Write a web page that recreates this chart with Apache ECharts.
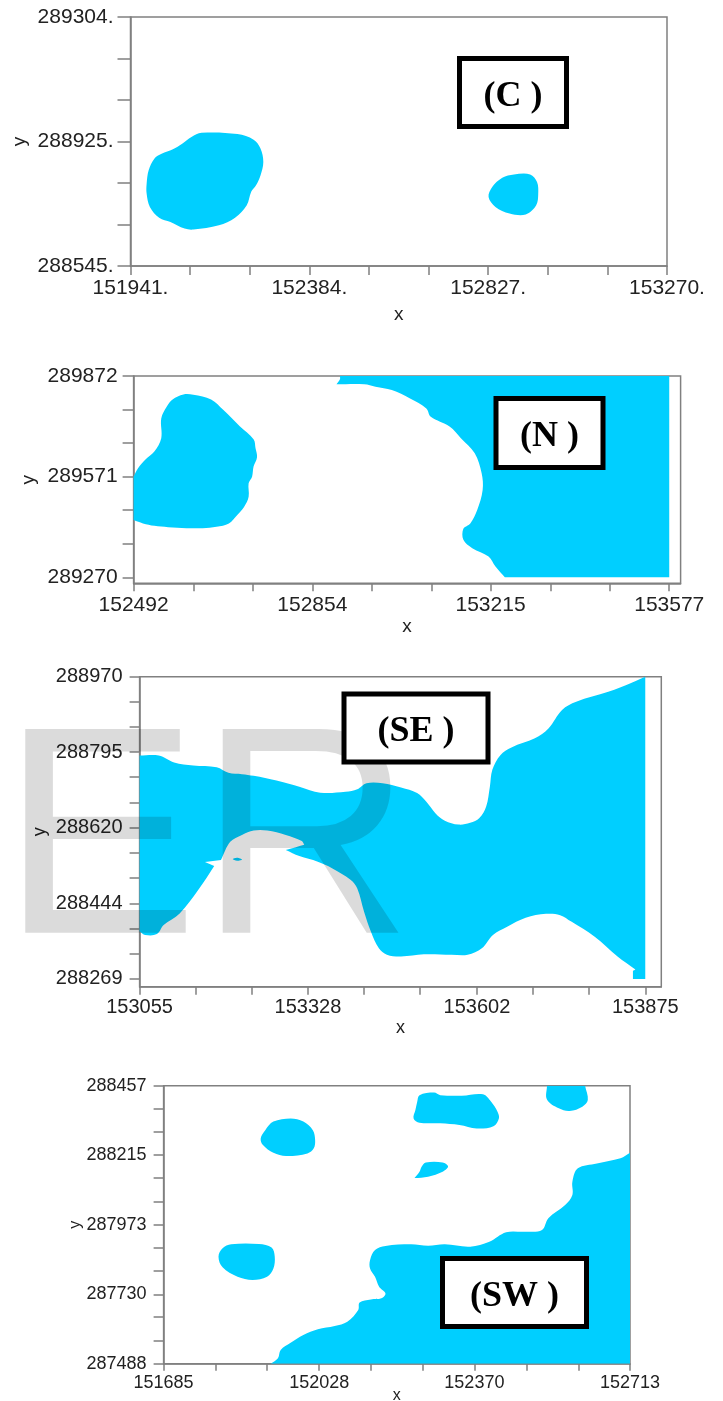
<!DOCTYPE html>
<html><head><meta charset="utf-8">
<style>html,body{margin:0;padding:0;background:#fff}#c{width:723px;height:1401px}</style>
<script src="https://cdn.jsdelivr.net/npm/echarts@6/dist/echarts.min.js"></script>
</head><body><div id="c"></div>
<script>
// ---- Panel C ----
const cXTicks=[151941,152089,152236,152384,152532,152679,152827,152975,153122,153270];
const cYTicks=[288545,288672,288798,288925,289051,289178,289304];
const cXLabels=[151941,152384,152827,153270];
const cYLabels=[288545,288925,289304];
const cBlobBig=[[152117,288951],[152206,288947],[152246,288930],[152263,288903],[152270,288862],[152263,288821],[152252,288791],[152240,288771],[152229,288730],[152200,288692],[152160,288669],[152097,288656],[152075,288659],[152040,288679],[152012,288692],[151989,288725],[151981,288765],[151981,288796],[151986,288837],[152000,288872],[152018,288887],[152046,288901],[152069,288918],[152092,288938]];
const cBlobSmall=[[152891,288824],[152931,288824],[152948,288801],[152951,288765],[152946,288730],[152920,288702],[152880,288705],[152845,288725],[152828,288755],[152837,288786],[152862,288814]];
// ---- Panel N ----
const nXTicks=[152492,152613,152733,152854,152974,153095,153215,153336,153456,153577];
const nYTicks=[289270,289370,289471,289571,289671,289772,289872];
const nXLabels=[152492,152854,153215,153577];
const nYLabels=[289270,289571,289872];
const nBlob=[[152492,289571],[152492,289571],[152501,289596],[152515,289621],[152534,289646],[152548,289686],[152548,289745],[152559,289780],[152571,289802],[152593,289817],[152613,289816],[152649,289802],[152674,289770],[152707,289722],[152735,289683],[152739,289656],[152742,289629],[152735,289601],[152732,289571],[152725,289551],[152725,289511],[152716,289481],[152702,289456],[152685,289431],[152660,289421],[152632,289417],[152599,289417],[152562,289420],[152534,289424],[152511,289431],[152492,289441],[152492,289441]];
const nRegion=[[152910,289872],[152910,289872],[152910,289862],[152903,289847],[152903,289847],[152959,289847],[152982,289840],[153015,289830],[153052,289805],[153085,289775],[153094,289750],[153132,289721],[153155,289686],[153183,289641],[153197,289581],[153199,289531],[153188,289471],[153174,289431],[153160,289415],[153160,289382],[153178,289357],[153211,289332],[153225,289302],[153244,289270],[153244,289270],[153577,289270],[153577,289270],[153577,289872],[153577,289872]];
// ---- Panel SE ----
const seXTicks=[153055,153146,153237,153328,153419,153510,153602,153693,153784,153875];
const seYTicks=[288269,288327,288386,288444,288503,288561,288620,288678,288737,288795,288853,288912,288970];
const seXLabels=[153055,153328,153602,153875];
const seYLabels=[288269,288444,288620,288795,288970];
const seRegion=[[153055,288787],[153055,288787],[153086,288787],[153111,288771],[153142,288764],[153180,288760],[153199,288747],[153221,288744],[153240,288740],[153277,288729],[153314,288715],[153348,288701],[153389,288703],[153408,288709],[153423,288723],[153449,288723],[153479,288713],[153505,288700],[153520,288680],[153535,288653],[153550,288636],[153572,288627],[153591,288631],[153606,288642],[153617,288669],[153623,288715],[153627,288754],[153640,288788],[153658,288806],[153696,288827],[153718,288850],[153740,288893],[153763,288912],[153815,288935],[153853,288956],[153875,288970],[153875,288970],[153875,288269],[153875,288269],[153855,288269],[153855,288269],[153855,288288],[153855,288288],[153859,288291],[153859,288291],[153830,288321],[153793,288367],[153755,288402],[153737,288417],[153714,288420],[153681,288411],[153651,288390],[153628,288371],[153610,288340],[153587,288325],[153561,288325],[153516,288326],[153479,288321],[153456,288325],[153443,288340],[153430,288379],[153419,288425],[153408,288479],[153397,288499],[153367,288526],[153344,288541],[153314,288554],[153292,288568],[153292,288568],[153307,288574],[153322,288580],[153322,288580],[153318,288589],[153292,288603],[153262,288613],[153240,288613],[153221,288603],[153202,288587],[153187,288545],[153187,288545],[153161,288540],[153161,288540],[153176,288531],[153176,288531],[153150,288475],[153120,288421],[153094,288394],[153083,288373],[153064,288371],[153055,288379],[153055,288379]];
const seDot=[[153206,288547],[153213,288550],[153221,288546],[153213,288543]];
// ---- Panel SW ----
const swXTicks=[151685,151799,151913,152028,152142,152256,152370,152485,152599,152713];
const swYTicks=[287488,287569,287650,287730,287811,287892,287973,288054,288135,288215,288296,288376,288457];
const swXLabels=[151685,152028,152370,152713];
const swYLabels=[287488,287730,287973,288215,288457];
const swBlobTop=[[152249,288424],[152281,288433],[152295,288424],[152342,288422],[152389,288427],[152407,288401],[152421,288366],[152424,288343],[152412,288316],[152375,288308],[152337,288320],[152295,288326],[152249,288328],[152236,288343],[152240,288372],[152244,288401]];
const swBlobCorner=[[152530,288457],[152530,288457],[152614,288457],[152614,288457],[152620,288407],[152608,288384],[152580,288369],[152556,288378],[152530,288409]];
const swBlobRound=[[151965,288343],[151993,288332],[152014,288302],[152019,288268],[152016,288239],[152002,288221],[151955,288212],[151927,288223],[151904,288250],[151899,288273],[151909,288302],[151927,288332]];
const swBlobSmall=[[152263,288189],[152300,288189],[152312,288175],[152300,288157],[152268,288140],[152238,288135],[152238,288135],[152249,288157],[152254,288175]];
const swBlobLow=[[151834,287904],[151895,287905],[151923,287893],[151930,287861],[151927,287820],[151913,287791],[151881,287780],[151848,287791],[151815,287824],[151806,287861],[151815,287890]];
const swRegion=[[151921,287488],[151921,287488],[151937,287507],[151943,287536],[151965,287561],[151993,287588],[152025,287608],[152062,287619],[152090,287634],[152114,287675],[152117,287701],[152142,287712],[152165,287716],[152174,287733],[152160,287756],[152151,287791],[152140,287820],[152140,287849],[152151,287884],[152174,287898],[152230,287904],[152268,287899],[152305,287904],[152361,287896],[152403,287913],[152440,287946],[152482,287948],[152519,287954],[152533,287995],[152570,288041],[152586,288076],[152586,288122],[152598,288169],[152640,288186],[152692,288204],[152713,288223],[152713,288223],[152713,287488],[152713,287488]];

const BLUE='#00CFFF', AX='#808080', TXT='#222';
const panels=[
 {rect:[130.5,17,536.5,249],xr:[151941,153270],yr:[288545,289304],xt:cXTicks,yt:cYTicks,xl:cXLabels,yl:cYLabels,suffix:'.',fs:21,ytl:13,xtl:9,xm:12,ym:4,xg:39,yg:101,ns:19,
  blobs:[cBlobBig,cBlobSmall],regions:[],box:[459.5,58.5,107,68],lab:'(C )'},
 {rect:[133.6,376,547,207.3],xr:[152492,153600],yr:[289252,289872],xt:nXTicks,yt:nYTicks,xl:nXLabels,yl:nYLabels,suffix:'',fs:21,ytl:11,xtl:8,xm:11,ym:5,xg:34,yg:95,ns:19,
  blobs:[nBlob],regions:[nRegion],box:[496,398.5,107,69],lab:'(N )'},
 {rect:[139.6,676.7,521.7,310],xr:[153055,153901],yr:[288251,288970],xt:seXTicks,yt:seYTicks,xl:seXLabels,yl:seYLabels,suffix:'',fs:20,ytl:10,xtl:8,xm:11,ym:7,xg:32,yg:91,ns:18,
  blobs:[],regions:[seRegion,seDot],box:[344,694,144,68],lab:'(SE )'},
 {rect:[163.6,1085.7,466.4,278],xr:[151685,152713],yr:[287488,288457],xt:swXTicks,yt:swYTicks,xl:swXLabels,yl:swYLabels,suffix:'',fs:18,ytl:10,xtl:7,xm:10,ym:7,xg:24,yg:80,ns:16,
  blobs:[swBlobTop,swBlobCorner,swBlobRound,swBlobSmall,swBlobLow],regions:[swRegion],box:[442.5,1258.5,144,68],lab:'(SW )'}
];

const grid=[],xAxis=[],yAxis=[],series=[],graphic=[];
const lineStyle={color:AX,width:1.5};
panels.forEach((p,i)=>{
  grid.push({left:p.rect[0],top:p.rect[1],width:p.rect[2],height:p.rect[3],show:true,borderColor:AX,borderWidth:1.5,backgroundColor:'transparent',outerBoundsMode:'none'});
  const fmt=v=>v+p.suffix;
  xAxis.push({gridIndex:i,type:'value',min:p.xr[0],max:p.xr[1],splitLine:{show:false},name:'x',nameLocation:'middle',nameGap:p.xg,nameMoveOverlap:false,
    nameTextStyle:{fontFamily:'Liberation Sans',fontSize:p.ns,color:TXT},axisLine:{show:true,lineStyle},
    axisTick:{show:true,length:p.xtl,customValues:p.xt,lineStyle},
    axisLabel:{show:true,customValues:p.xl,margin:p.xm,formatter:fmt,fontFamily:'Liberation Sans',fontSize:p.fs,color:TXT}});
  yAxis.push({gridIndex:i,type:'value',min:p.yr[0],max:p.yr[1],splitLine:{show:false},name:'y',nameLocation:'middle',nameGap:p.yg,nameRotate:90,nameMoveOverlap:false,
    nameTextStyle:{fontFamily:'Liberation Sans',fontSize:p.ns,color:TXT},axisLine:{show:true,lineStyle},
    axisTick:{show:true,length:p.ytl,customValues:p.yt,lineStyle},
    axisLabel:{show:true,customValues:p.yl,margin:p.ytl+p.ym,formatter:fmt,fontFamily:'Liberation Sans',fontSize:p.fs,color:TXT}});
  const add=(poly,smooth)=>series.push({type:'custom',coordinateSystem:'cartesian2d',xAxisIndex:i,yAxisIndex:i,silent:true,data:poly,clip:true,
    encode:{x:0,y:1},
    renderItem:(params,api)=>params.dataIndex===0?{type:'polygon',shape:{points:poly.map(pt=>api.coord(pt)),smooth},style:{fill:BLUE,stroke:null}}:null});
  p.blobs.forEach(b=>add(b,0.35));
  p.regions.forEach(r=>add(r,0.35));
  graphic.push({type:'rect',z:60,shape:{x:p.box[0],y:p.box[1],width:p.box[2],height:p.box[3]},style:{fill:'#fff',stroke:'#000',lineWidth:5}});
  graphic.push({type:'text',z:61,x:p.box[0]+p.box[2]/2,y:p.box[1]+p.box[3]/2+4,style:{text:p.lab,fill:'#000',font:'bold 36px "Liberation Serif"',textAlign:'center',textVerticalAlign:'middle'}});
});
graphic.push({type:'text',z:50,x:1,y:851,silent:true,style:{text:'ER',fill:'rgba(0,0,0,0.14)',font:'296px "Liberation Sans"',textAlign:'left',textVerticalAlign:'middle'}});

echarts.init(document.getElementById('c'),null,{renderer:'canvas'}).setOption({animation:false,backgroundColor:'#fff',tooltip:{show:false},grid,xAxis,yAxis,series,graphic});
</script></body></html>
